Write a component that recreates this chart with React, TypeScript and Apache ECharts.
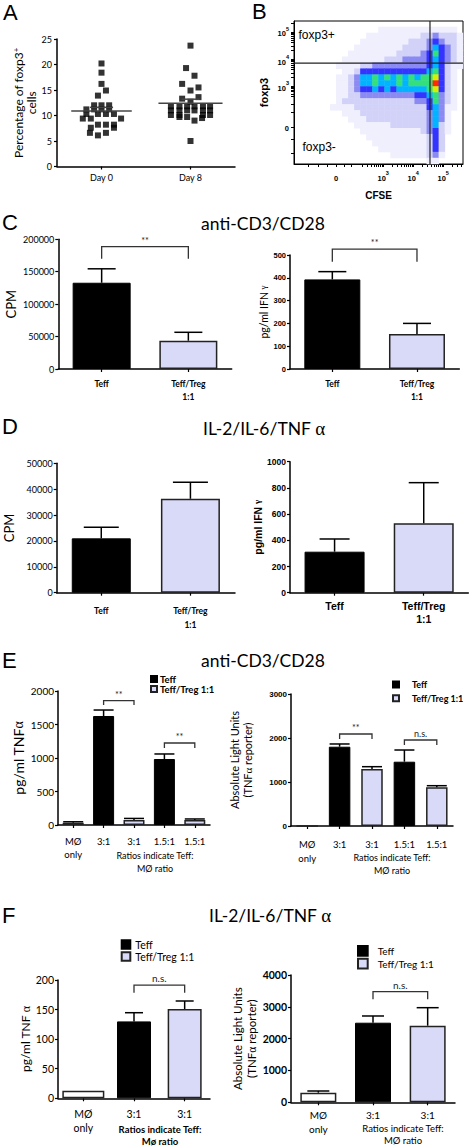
import React, { useEffect, useRef } from "react";
import * as echarts from "echarts";

const CAL = "Lato, 'Open Sans', sans-serif";
const ARIAL = "'Liberation Sans', Arial, sans-serif";
const SERIF = "'Liberation Serif', 'DejaVu Serif', serif";

// ---------------- Panel A : % foxp3+ cells ----------------
const A_CATEGORIES = ["Day 0", "Day 8"];
// [jitter inside column (category units), % foxp3+ cells]
const A_DAY0 = [
  [0, 20.2], [0, 18.4], [0, 16.2], [0.05, 14.9], [-0.04, 13.9],
  [-0.083, 12.0], [0, 12.0], [0.086, 12.0],
  [-0.17, 11.2], [-0.083, 11.2], [0, 11.2], [0.086, 11.2],
  [-0.17, 10.3], [-0.04, 10.3], [0.05, 10.3], [0.14, 10.3],
  [-0.21, 9.4], [-0.12, 9.4], [0.22, 9.4],
  [-0.04, 8.2], [0.05, 8.2], [0.14, 8.2],
  [-0.12, 7.6], [0.14, 7.6],
  [-0.13, 6.6], [0.05, 6.6], [-0.04, 6.1],
];
const A_DAY8 = [
  [0, 23.7], [-0.05, 19.3], [0.045, 17.8], [-0.094, 16.2], [0.09, 15.5], [0, 14.9],
  [0.09, 13.6], [-0.094, 13.3], [0, 12.7],
  [-0.22, 11.8], [-0.124, 11.8], [-0.038, 11.8], [0.045, 11.8], [0.14, 11.8], [0.22, 11.8],
  [-0.22, 11.0], [-0.124, 11.0], [-0.038, 11.0], [0.045, 11.0], [0.14, 11.0], [0.22, 11.0],
  [-0.22, 10.1], [-0.124, 10.1], [0.14, 10.1], [0.22, 10.1],
  [-0.124, 9.7], [-0.038, 9.7], [0.13, 9.5], [0.045, 9.0], [0, 5.0],
];
const A_MEAN = [10.9, 12.4];
const A_SEM_TOP = [11.6, 13.2];

// ---------------- Panel B : CFSE / foxp3 density (levels 0-8) ----------------
const B_DENSITY_ROWS = [
  "0000000000000000000000000000",
  "0000000000000011111111111110",
  "0000000000001111111112232221",
  "0000000000011111111222343221",
  "0000000000111111112222354321",
  "0000000001111111122223464321",
  "0000000011111112223333454321",
  "0000000111122333333333454211",
  "0000000011244444444444564210",
  "0000000112355656565656674210",
  "0000000112355655565666684210",
  "0000000112344545455555674210",
  "0000000112233333333344563210",
  "0000000122222222222233463210",
  "0000001111222222222222453110",
  "0000000011122222222222353100",
  "0000000001112222222222353100",
  "0000000000111111222222352100",
  "0000000000011111111112342100",
  "0000000000001111111111242000",
  "0000000000000111111111242000",
  "0000000000000011111111242000",
  "0000000000000000111111231000",
  "0000000000000000000000110000",
];
const B_LEVEL_COLORS = ["#ffffff", "#efeffd", "#d2d2f9", "#8a8af2", "#3434ff", "#00b4ff", "#34e07a", "#d8f000", "#ff2a00"];
const B_X_LABEL_POS = [1.43, 3, 4, 5];
const B_X_LABELS = [["0", ""], ["10", "3"], ["10", "4"], ["10", "5"]];
const B_Y_LABEL_POS = [1.48, 2.99, 3.95, 5.0];
const B_Y_LABELS = [["0", ""], ["10", "3"], ["10", "4"], ["10", "5"]];
const B_GATE_X = 4.56;
const B_GATE_Y = 3.84;

// ---------------- Panel C : anti-CD3/CD28 ----------------
const C_CATS = ["Teff", "Teff/Treg\n1:1"];
const C_GROUPS = ["Teff", "Teff/Treg 1:1"];
const C_CPM = [133000, 43600];
const C_CPM_ERR = [154500, 56600];
const C_IFN = [393, 153];
const C_IFN_ERR = [427, 200];
const C_CPM_SIG = [{ from: 0, to: 1, top: 188600, leg: 170000, label: "**" }];
const C_IFN_SIG = [{ from: 0, to: 1, top: 526, leg: 470, label: "**" }];

// ---------------- Panel D : IL-2/IL-6/TNFα ----------------
const D_CATS = ["Teff", "Teff/Treg\n1:1"];
const D_GROUPS = ["Teff", "Teff/Treg 1:1"];
const D_CPM = [21000, 36300];
const D_CPM_ERR = [25300, 42700];
const D_IFN = [313, 530];
const D_IFN_ERR = [410, 840];

// ---------------- Panel E : anti-CD3/CD28, TNFα ----------------
const E_CATS = ["MØ\nonly", "3:1", "3:1", "1.5:1", "1.5:1"];
const E_GROUPS = ["MØ only", "Teff", "Teff/Treg 1:1", "Teff", "Teff/Treg 1:1"];
const E_TNF = [35, 1627, 75, 985, 75];
const E_TNF_ERR = [48, 1716, 98, 1060, 90];
const E_ALU = [0, 1802, 1295, 1461, 880];
const E_ALU_ERR = [0, 1864, 1348, 1727, 916];
const E_TNF_SIG = [
  { from: 1, to: 2, top: 1855, leg: 1791, label: "**" },
  { from: 3, to: 4, top: 1224, leg: 1149, label: "**" },
];
const E_ALU_SIG = [
  { from: 1, to: 2, top: 2091, leg: 1977, label: "**" },
  { from: 3, to: 4, top: 1955, leg: 1841, label: "n.s." },
];

// ---------------- Panel F : IL-2/IL-6/TNFα, TNFα ----------------
const F_CATS = ["MØ\nonly", "3:1", "3:1"];
const F_GROUPS = ["MØ only", "Teff", "Teff/Treg 1:1"];
const F_TNF = [12.8, 130, 151];
const F_TNF_ERR = [12.8, 144.7, 164.5];
const F_ALU = [302, 2501, 2407];
const F_ALU_ERR = [355, 2712, 2973];
const F_TNF_SIG = [{ from: 1, to: 2, top: 191.5, leg: 178.5, label: "n.s." }];
const F_ALU_SIG = [{ from: 1, to: 2, top: 3475, leg: 3236, label: "n.s." }];

const LEGEND_NAMES = ["Teff", "Teff/Treg 1:1"];

const GROUP_STYLE: Record<string, any> = {
  "Teff": { color: "#000000", borderColor: "#000000", borderWidth: 1 },
  "Teff/Treg 1:1": { color: "#d9d9f8", borderColor: "#222222", borderWidth: 1.5 },
  "MØ only": { color: "#ffffff", borderColor: "#222222", borderWidth: 1.5 },
};

const AXIS_LINE = { show: true, onZero: false, lineStyle: { color: "#000", width: 1.5 } };
const AXIS_TICK = { show: true, length: 3, lineStyle: { color: "#000", width: 1.2 } };
const plainNumber = (v: number) => String(v);

function errorRenderer(half: number) {
  return (params: any, api: any) => {
    const x = api.value(0);
    const base = api.coord([x, api.value(1)]);
    const top = api.coord([x, api.value(2)]);
    if (Math.abs(top[1] - base[1]) < 0.5) return null;
    return {
      type: "group",
      children: [
        { type: "line", shape: { x1: base[0], y1: base[1], x2: base[0], y2: top[1] }, style: { stroke: "#000", lineWidth: 1.5 } },
        { type: "line", shape: { x1: base[0] - half, y1: top[1], x2: base[0] + half, y2: top[1] }, style: { stroke: "#000", lineWidth: 1.5 } },
      ],
    };
  };
}

function bracketRenderer(labels: string[], font: any) {
  return (params: any, api: any) => {
    const i = params.dataIndex;
    const a = api.coord([api.value(0), api.value(2)]);
    const b = api.coord([api.value(1), api.value(2)]);
    const legY = api.coord([api.value(0), api.value(3)])[1];
    return {
      type: "group",
      children: [
        {
          type: "polyline",
          shape: { points: [[a[0], legY], [a[0], a[1]], [b[0], b[1]], [b[0], legY]] },
          style: { stroke: "#333", lineWidth: 1.3, fill: "none" },
        },
        {
          type: "text",
          x: (a[0] + b[0]) / 2,
          y: a[1] - 2,
          style: { text: labels[i], align: "center", verticalAlign: "bottom", fill: "#222", ...font },
        },
      ],
    };
  };
}

function segRenderer(params: any, api: any) {
  const c = api.value(0);
  const h = api.value(1);
  const y = api.value(2);
  const p1 = api.coord([c - h, y]);
  const p2 = api.coord([c + h, y]);
  return { type: "line", shape: { x1: p1[0], y1: p1[1], x2: p2[0], y2: p2[1] }, style: { stroke: "#444", lineWidth: 1.5 } };
}

function supFormatter(pos: number[], labels: string[][]) {
  return (v: number) => {
    const i = pos.findIndex((p) => Math.abs(p - v) < 1e-6);
    if (i < 0) return "";
    const [b, e] = labels[i];
    return e ? `{b|${b}}{s|${e}}` : `{b|${b}}`;
  };
}
const SUP_RICH = {
  b: { fontSize: 7.5, fontWeight: "bold", fontFamily: ARIAL, color: "#000", lineHeight: 12, verticalAlign: "bottom" },
  s: { fontSize: 5.5, fontWeight: "bold", fontFamily: ARIAL, color: "#000", verticalAlign: "top" },
};

function logTicks(lo: number, hi: number, extra: number[]) {
  const out: number[] = [...extra];
  for (let d = 2; d <= 5; d++) {
    for (let k = 1; k <= 9; k++) {
      const v = d + Math.log10(k);
      if (v >= lo && v <= hi) out.push(v);
    }
  }
  return out;
}

interface BarPanel {
  grid: { left: number; top: number; width: number; height: number };
  cats: string[];
  groups: string[];
  values: number[];
  errors: number[];
  sig: { from: number; to: number; top: number; leg: number; label: string }[];
  yMax: number;
  yInterval: number;
  yName: string;
  yNameGap: number;
  yNameStyle: any;
  yLabel: any;
  xLabel: any;
  barWidth: number;
  wideFirst?: number;
  capHalf: number;
  sigFont: any;
}

function addBarPanel(p: BarPanel, grids: any[], xAxes: any[], yAxes: any[], series: any[]) {
  const gi = grids.length;
  grids.push({ ...p.grid });
  const xi = xAxes.length;
  xAxes.push({
    type: "category",
    gridIndex: gi,
    data: p.cats,
    axisLine: AXIS_LINE,
    axisTick: { ...AXIS_TICK, alignWithLabel: true },
    axisLabel: { interval: 0, color: "#000", ...p.xLabel },
  });
  let xw = -1;
  if (p.wideFirst) {
    xw = xAxes.length;
    xAxes.push({ type: "category", gridIndex: gi, data: p.cats, show: false, position: "bottom" });
  }
  const yi = yAxes.length;
  yAxes.push({
    type: "value",
    gridIndex: gi,
    min: 0,
    max: p.yMax,
    interval: p.yInterval,
    axisLine: AXIS_LINE,
    axisTick: AXIS_TICK,
    splitLine: { show: false },
    axisLabel: { color: "#000", formatter: plainNumber, ...p.yLabel },
    name: p.yName,
    nameLocation: "middle",
    nameRotate: 90,
    nameGap: p.yNameGap,
    nameTextStyle: { color: "#000", ...p.yNameStyle },
  });
  const seen: string[] = [];
  p.groups.forEach((g) => { if (!seen.includes(g)) seen.push(g); });
  seen.forEach((g) => {
    const wide = !!p.wideFirst && g === p.groups[0];
    series.push({
      type: "bar",
      name: g,
      xAxisIndex: wide ? xw : xi,
      yAxisIndex: yi,
      data: p.values.map((v, i) => (p.groups[i] === g ? v : "-")),
      barWidth: wide ? p.wideFirst : p.barWidth,
      barGap: "-100%",
      itemStyle: GROUP_STYLE[g],
      silent: true,
      z: 2,
    });
  });
  series.push({
    type: "custom",
    xAxisIndex: xi,
    yAxisIndex: yi,
    data: p.values.map((v, i) => [i, v, p.errors[i]]),
    encode: { x: 0, y: [1, 2] },
    renderItem: errorRenderer(p.capHalf),
    clip: false,
    silent: true,
    z: 3,
  });
  if (p.sig.length) {
    series.push({
      type: "custom",
      xAxisIndex: xi,
      yAxisIndex: yi,
      data: p.sig.map((s) => [s.from, s.to, s.top, s.leg]),
      encode: { x: [0, 1], y: [2, 3] },
      renderItem: bracketRenderer(p.sig.map((s) => s.label), p.sigFont),
      clip: false,
      silent: true,
      z: 4,
    });
  }
}

function buildOption() {
  const grids: any[] = [];
  const xAxes: any[] = [];
  const yAxes: any[] = [];
  const series: any[] = [];

  // ---------- A ----------
  grids.push({ left: 57, top: 39, width: 178, height: 127.5 });
  xAxes.push({
    type: "category", gridIndex: 0, data: A_CATEGORIES, axisLine: AXIS_LINE,
    axisTick: { ...AXIS_TICK, alignWithLabel: true },
    axisLabel: { fontSize: 9, fontFamily: CAL, color: "#000", margin: 6 },
  });
  xAxes.push({ type: "value", gridIndex: 0, min: -0.5, max: 1.5, show: false, position: "top" });
  yAxes.push({
    type: "value", gridIndex: 0, min: 0, max: 25, interval: 5, axisLine: AXIS_LINE, axisTick: AXIS_TICK,
    splitLine: { show: false }, axisLabel: { fontSize: 9, fontFamily: CAL, color: "#000", margin: 5 },
    name: "Percentage of foxp3{sup|+}\ncells", nameLocation: "middle", nameRotate: 90, nameGap: 15,
    nameTextStyle: { fontSize: 12, fontFamily: CAL, color: "#000", lineHeight: 13, rich: { sup: { fontSize: 8, fontFamily: CAL, verticalAlign: "top", color: "#000" } } },
  });
  series.push({
    type: "scatter", xAxisIndex: 1, yAxisIndex: 0, symbol: "rect", symbolSize: 6,
    itemStyle: { color: "#000" }, silent: true,
    data: [...A_DAY0.map(([o, v]) => [0 + o, v]), ...A_DAY8.map(([o, v]) => [1 + o, v])],
  });
  series.push({
    type: "custom", xAxisIndex: 1, yAxisIndex: 0, silent: true, z: 5,
    data: [[0, 0.34, A_MEAN[0]], [0, 0.13, A_SEM_TOP[0]], [1, 0.36, A_MEAN[1]], [1, 0.1, A_SEM_TOP[1]]],
    encode: { x: 0, y: 2 }, renderItem: segRenderer,
  });

  // ---------- B ----------
  grids.push({ left: 294, top: 21, width: 169, height: 143, show: true, borderColor: "#000", borderWidth: 1, backgroundColor: "transparent" });
  const bCols = B_DENSITY_ROWS[0].length;
  const bRows = B_DENSITY_ROWS.length;
  xAxes.push({ type: "category", gridIndex: 1, data: Array.from({ length: bCols }, (_, i) => String(i)), show: false, position: "top" }); // 2
  xAxes.push({
    type: "value", gridIndex: 1, min: 0.03, max: 5.66, position: "bottom",
    axisLine: { show: true, onZero: false, lineStyle: { color: "#000", width: 1 } },
    axisTick: { show: true, length: 3, customValues: logTicks(2.2, 5.66, [0.5, 0.85, 1.15, 1.43, 1.7, 1.95]), lineStyle: { color: "#000", width: 1 } },
    axisLabel: { customValues: B_X_LABEL_POS, formatter: supFormatter(B_X_LABEL_POS, B_X_LABELS), rich: SUP_RICH, margin: 6 },
    splitLine: { show: false },
    name: "CFSE", nameLocation: "middle", nameGap: 26,
    nameTextStyle: { fontSize: 10, fontWeight: "bold", fontFamily: ARIAL, color: "#000" },
  }); // 3
  yAxes.push({ type: "category", gridIndex: 1, data: Array.from({ length: bRows }, (_, i) => String(i)), inverse: true, show: false, position: "right" }); // 1
  yAxes.push({
    type: "value", gridIndex: 1, min: 0.1, max: 5.4, position: "left",
    axisLine: { show: true, onZero: false, lineStyle: { color: "#000", width: 1 } },
    axisTick: { show: true, length: 3, customValues: logTicks(2.5, 5.4, [0.5, 1.0, 1.48, 2.0, 2.3]), lineStyle: { color: "#000", width: 1 } },
    axisLabel: { customValues: B_Y_LABEL_POS, formatter: supFormatter(B_Y_LABEL_POS, B_Y_LABELS), rich: SUP_RICH, margin: 5 },
    splitLine: { show: false },
    name: "foxp3", nameLocation: "middle", nameRotate: 90, nameGap: 25,
    nameTextStyle: { fontSize: 11, fontWeight: "bold", fontFamily: ARIAL, color: "#000" },
  }); // 2
  const heat: number[][] = [];
  B_DENSITY_ROWS.forEach((row, r) => {
    for (let c = 0; c < row.length; c++) {
      const l = Number(row[c]);
      if (l > 0) heat.push([c, r, l]);
    }
  });
  const heatIndex = series.length;
  series.push({ type: "heatmap", xAxisIndex: 2, yAxisIndex: 1, data: heat, silent: true, z: 1, itemStyle: { borderWidth: 0 } });
  series.push({
    type: "line", xAxisIndex: 3, yAxisIndex: 2, symbol: "none", silent: true, z: 3,
    lineStyle: { color: "#222", width: 1.2 }, data: [[B_GATE_X, 0.1], [B_GATE_X, 5.4]],
  });
  series.push({
    type: "line", xAxisIndex: 3, yAxisIndex: 2, symbol: "none", silent: true, z: 3,
    lineStyle: { color: "#222", width: 1.2 }, data: [[0.03, B_GATE_Y], [5.66, B_GATE_Y]],
  });

  // ---------- C ----------
  const xC = { fontSize: 8.5, fontFamily: CAL, fontWeight: "bold", lineHeight: 13, margin: 8 };
  addBarPanel({
    grid: { left: 58.3, top: 239.3, width: 173.4, height: 129.7 },
    cats: C_CATS, groups: C_GROUPS, values: C_CPM, errors: C_CPM_ERR, sig: C_CPM_SIG,
    yMax: 200000, yInterval: 50000, yName: "CPM", yNameGap: 41,
    yNameStyle: { fontSize: 13, fontFamily: CAL },
    yLabel: { fontSize: 9, fontFamily: CAL, margin: 4 }, xLabel: xC,
    barWidth: 58, capHalf: 14, sigFont: { fontSize: 9, fontFamily: CAL },
  }, grids, xAxes, yAxes, series);
  addBarPanel({
    grid: { left: 290, top: 255, width: 169.3, height: 114 },
    cats: C_CATS, groups: C_GROUPS, values: C_IFN, errors: C_IFN_ERR, sig: C_IFN_SIG,
    yMax: 500, yInterval: 100, yName: "pg/ml IFN {g|γ}", yNameGap: 18,
    yNameStyle: { fontSize: 10.5, fontFamily: CAL, rich: { g: { fontSize: 9, fontFamily: SERIF, verticalAlign: "top", color: "#000" } } },
    yLabel: { fontSize: 7.5, fontFamily: ARIAL, fontWeight: "bold", margin: 4 }, xLabel: xC,
    barWidth: 56, capHalf: 14, sigFont: { fontSize: 9, fontFamily: CAL },
  }, grids, xAxes, yAxes, series);

  // ---------- D ----------
  addBarPanel({
    grid: { left: 56.7, top: 463.3, width: 178.3, height: 129.4 },
    cats: D_CATS, groups: D_GROUPS, values: D_CPM, errors: D_CPM_ERR, sig: [],
    yMax: 50000, yInterval: 10000, yName: "CPM", yNameGap: 41,
    yNameStyle: { fontSize: 13, fontFamily: CAL },
    yLabel: { fontSize: 9, fontFamily: CAL, margin: 4 },
    xLabel: { fontSize: 8.5, fontFamily: CAL, fontWeight: "bold", lineHeight: 13.5, margin: 12 },
    barWidth: 59, capHalf: 17.5, sigFont: {},
  }, grids, xAxes, yAxes, series);
  addBarPanel({
    grid: { left: 290, top: 461.7, width: 178.3, height: 131 },
    cats: D_CATS, groups: D_GROUPS, values: D_IFN, errors: D_IFN_ERR, sig: [],
    yMax: 1000, yInterval: 200, yName: "pg/ml IFN {g|γ}", yNameGap: 17,
    yNameStyle: { fontSize: 10.5, fontFamily: ARIAL, fontWeight: "bold", rich: { g: { fontSize: 9, fontFamily: SERIF, verticalAlign: "top", color: "#000" } } },
    yLabel: { fontSize: 8.5, fontFamily: ARIAL, fontWeight: "bold", margin: 4 },
    xLabel: { fontSize: 10.5, fontFamily: ARIAL, fontWeight: "bold", lineHeight: 13, margin: 7 },
    barWidth: 60, capHalf: 15, sigFont: {},
  }, grids, xAxes, yAxes, series);

  // ---------- E ----------
  addBarPanel({
    grid: { left: 58, top: 691, width: 152, height: 134 },
    cats: E_CATS, groups: E_GROUPS, values: E_TNF, errors: E_TNF_ERR, sig: E_TNF_SIG,
    yMax: 2000, yInterval: 500, yName: "pg/ml TNF{a|α}", yNameGap: 33,
    yNameStyle: { fontSize: 14, fontFamily: CAL, rich: { a: { fontSize: 14, fontFamily: SERIF, color: "#000" } } },
    yLabel: { fontSize: 10, fontFamily: CAL, margin: 4 },
    xLabel: { fontSize: 9.5, fontFamily: CAL, lineHeight: 13.3, margin: 10 },
    barWidth: 21, capHalf: 10, sigFont: { fontSize: 9, fontFamily: CAL },
  }, grids, xAxes, yAxes, series);
  addBarPanel({
    grid: { left: 291, top: 694, width: 162, height: 132 },
    cats: E_CATS, groups: E_GROUPS, values: E_ALU, errors: E_ALU_ERR, sig: E_ALU_SIG,
    yMax: 3000, yInterval: 1000, yName: "Absolute Light Units\n(TNF{a|α} reporter)", yNameGap: 37,
    yNameStyle: { fontSize: 11, fontFamily: CAL, lineHeight: 13, rich: { a: { fontSize: 11, fontFamily: SERIF, color: "#000" } } },
    yLabel: { fontSize: 8, fontFamily: ARIAL, fontWeight: "bold", margin: 4 },
    xLabel: { fontSize: 9.5, fontFamily: CAL, lineHeight: 14, margin: 11 },
    barWidth: 21.5, capHalf: 10, sigFont: { fontSize: 9, fontFamily: CAL },
  }, grids, xAxes, yAxes, series);

  // ---------- F ----------
  addBarPanel({
    grid: { left: 58, top: 980, width: 152, height: 118.3 },
    cats: F_CATS, groups: F_GROUPS, values: F_TNF, errors: F_TNF_ERR, sig: F_TNF_SIG,
    yMax: 200, yInterval: 50, yName: "pg/ml TNF {a|α}", yNameGap: 21,
    yNameStyle: { fontSize: 12, fontFamily: CAL, rich: { a: { fontSize: 12, fontFamily: SERIF, color: "#000" } } },
    yLabel: { fontSize: 10.5, fontFamily: CAL, margin: 4 },
    xLabel: { fontSize: 10.5, fontFamily: CAL, lineHeight: 13.7, margin: 9 },
    barWidth: 34, wideFirst: 42, capHalf: 9, sigFont: { fontSize: 10, fontFamily: CAL },
  }, grids, xAxes, yAxes, series);
  addBarPanel({
    grid: { left: 291, top: 975, width: 164, height: 127.3 },
    cats: F_CATS, groups: F_GROUPS, values: F_ALU, errors: F_ALU_ERR, sig: F_ALU_SIG,
    yMax: 4000, yInterval: 1000, yName: "Absolute Light Units\n(TNF{a|α} reporter)", yNameGap: 31,
    yNameStyle: { fontSize: 11.5, fontFamily: CAL, lineHeight: 14, rich: { a: { fontSize: 11.5, fontFamily: SERIF, color: "#000" } } },
    yLabel: { fontSize: 10.5, fontFamily: CAL, fontWeight: "bold", margin: 4 },
    xLabel: { fontSize: 10, fontFamily: CAL, lineHeight: 14, margin: 6 },
    barWidth: 36, capHalf: 11, sigFont: { fontSize: 10, fontFamily: CAL },
  }, grids, xAxes, yAxes, series);

  const legendBase = { data: LEGEND_NAMES, orient: "vertical", selectedMode: false, icon: "rect", padding: 0 };
  const legend = [
    { ...legendBase, left: 150, top: 674, itemWidth: 6, itemHeight: 6, itemGap: 0, textStyle: { fontSize: 9.5, fontFamily: CAL, fontWeight: "bold", color: "#000", padding: [0, 0, 0, -2] } },
    { ...legendBase, left: 392, top: 680, itemWidth: 6, itemHeight: 6, itemGap: 4.7, textStyle: { fontSize: 9, fontFamily: CAL, fontWeight: "bold", color: "#000", padding: [0, 0, 0, 8] } },
    { ...legendBase, left: 120.7, top: 939, itemWidth: 8.6, itemHeight: 8.6, itemGap: 1, textStyle: { fontSize: 10.5, fontFamily: CAL, color: "#000" } },
    { ...legendBase, left: 357, top: 945, itemWidth: 9.7, itemHeight: 9.7, itemGap: 1, textStyle: { fontSize: 10, fontFamily: CAL, color: "#000", padding: [0, 0, 0, 5] } },
  ];

  const letter = (t: string, x: number, y: number) => ({
    type: "text", x, y, style: { text: t, fontSize: 22, fontFamily: ARIAL, fill: "#000", align: "left", verticalAlign: "middle" },
  });
  const title = (t: string, x: number, y: number) => ({
    type: "text", x, y,
    style: { text: t, fontSize: 17.5, fontFamily: CAL, fill: "#000", align: "center", verticalAlign: "middle", rich: { a: { fontSize: 19, fontFamily: SERIF, fill: "#000", color: "#000" } } },
  });
  const note = (t: string, x: number, y: number, extra: any = {}) => ({
    type: "text", x, y, style: { text: t, fontSize: 9, fontFamily: CAL, fill: "#000", align: "center", verticalAlign: "middle", ...extra },
  });

  const graphic = [
    letter("A", 3, 12.5), letter("B", 252, 11.5), letter("C", 2, 222), letter("D", 2, 426), letter("E", 2, 660), letter("F", 2, 915),
    title("anti-CD3/CD28", 263, 223),
    title("IL-2/IL-6/TNF {a|α}", 264, 428),
    title("anti-CD3/CD28", 263, 660),
    title("IL-2/IL-6/TNF {a|α}", 270, 915),
    { type: "text", x: 298.5, y: 35, z: 10, style: { text: "foxp3+", fontSize: 12, fontFamily: ARIAL, fill: "#000", align: "left", verticalAlign: "middle" } },
    { type: "text", x: 302.5, y: 146.7, z: 10, style: { text: "foxp3-", fontSize: 12, fontFamily: ARIAL, fill: "#000", align: "left", verticalAlign: "middle" } },
    note("Ratios indicate Teff:", 155, 855),
    note("MØ ratio", 155, 868),
    note("Ratios indicate Teff:", 392, 857),
    note("MØ ratio", 392, 870),
    note("Ratios indicate Teff:", 160, 1129, { fontWeight: "bold", fontSize: 9.5 }),
    note("Mø ratio", 160, 1141, { fontWeight: "bold", fontSize: 9.5 }),
    note("Ratios indicate Teff:", 403, 1128, { fontSize: 9.5 }),
    note("MØ ratio", 403, 1140, { fontSize: 9.5 }),
  ];

  const visualMap = [{
    type: "piecewise", show: false, seriesIndex: heatIndex, dimension: 2,
    pieces: B_LEVEL_COLORS.map((color, l) => ({ value: l, color })).slice(1),
  }];

  return {
    animation: false,
    backgroundColor: "#ffffff",
    textStyle: { fontFamily: CAL },
    grid: grids,
    xAxis: xAxes,
    yAxis: yAxes,
    legend,
    visualMap,
    series,
    graphic,
  };
}

export default function App() {
  const ref = useRef<HTMLDivElement>(null);
  useEffect(() => {
    document.body.style.margin = "0";
    const chart = echarts.init(ref.current as HTMLDivElement, null, { renderer: "svg", width: 474, height: 1146 });
    chart.setOption(buildOption() as any);
    return () => chart.dispose();
  }, []);
  return <div ref={ref} style={{ position: "absolute", left: 0, top: 0, width: 474, height: 1146, background: "#fff" }} />;
}
